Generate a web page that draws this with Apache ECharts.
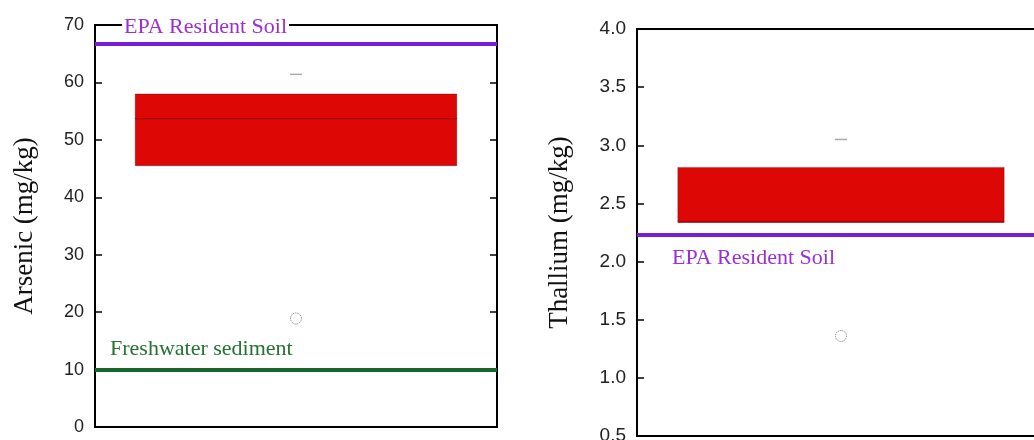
<!DOCTYPE html>
<html>
<head>
<meta charset="utf-8">
<script src="https://cdn.jsdelivr.net/npm/echarts@6/dist/echarts.min.js"></script>
<style>
  html, body { margin: 0; padding: 0; background: #fff; }
  #chart { width: 1034px; height: 440px; }
</style>
</head>
<body>
<div id="chart"></div>
<script>
// one sample location per panel
const categories = ["Site"]
// [q1, median, q3, upper whisker]
const arsenicBox = [45.5, 53.7, 58.0, 61.4]
const arsenicOutliers = [18.9]
const thalliumBox = [2.34, 2.34, 2.81, 3.05]
const thalliumOutliers = [1.36]
// screening levels
const arsenicRefNames = ["EPA Resident Soil", "Freshwater sediment"]
const arsenicRefValues = [66.7, 10]
const thalliumRefNames = ["EPA Resident Soil"]
const thalliumRefValues = [2.23]

const PURPLE = "#761fd6"
const PURPLE_TXT = "#9a2fd8"
const GREEN = "#17662a"
const GREEN_TXT = "#237332"

function renderBox(params, api) {
  const x = api.value(0)
  const q1 = api.coord([x, api.value(1)])
  const med = api.coord([x, api.value(2)])
  const q3 = api.coord([x, api.value(3)])
  const hi = api.coord([x, api.value(4)])
  const w = api.size([1, 0])[0] * 0.8
  const cx = q1[0]
  return {
    type: "group",
    children: [
      {
        type: "rect",
        shape: { x: cx - w / 2, y: q3[1], width: w, height: q1[1] - q3[1] },
        style: { fill: "#dd0806", stroke: "rgba(0,0,0,0.25)", lineWidth: 1 },
      },
      {
        type: "line",
        shape: { x1: cx - w / 2, y1: med[1], x2: cx + w / 2, y2: med[1] },
        style: { stroke: "#9a0000", lineWidth: 1.2 },
      },
      {
        type: "line",
        shape: { x1: cx - 6, y1: hi[1], x2: cx + 6, y2: hi[1] },
        style: { stroke: "#aaa", lineWidth: 1.5 },
      },
    ],
  }
}

function refLines(names, values, colors, txtColors, positions, distances, bg) {
  return names.map((n, i) => ({
    name: n,
    yAxis: values[i],
    lineStyle: { color: colors[i], width: 4, type: "solid" },
    label: {
      show: true,
      formatter: "{b}",
      position: positions[i],
      distance: distances[i],
      color: txtColors[i],
      fontFamily: "Liberation Serif",
      fontSize: 22,
      backgroundColor: bg[i] ? "#fff" : "transparent",
      padding: [0, 2],
    },
  }))
}

function yAxisBase(grid, min, max, interval, fontSize) {
  return {
    type: "value",
    gridIndex: grid,
    min: min,
    max: max,
    interval: interval,
    axisLine: { show: false },
    axisTick: { show: true, inside: true, length: 7, lineStyle: { color: "#000", width: 1.5 } },
    splitLine: { show: false },
    axisLabel: {
      color: "#222",
      fontFamily: "Liberation Sans",
      fontSize: fontSize,
      margin: 11,
      formatter: (v) => (interval < 1 ? v.toFixed(1) : String(v)),
    },
  }
}

const chart = echarts.init(document.getElementById("chart"))
chart.setOption({
  animation: false,
  grid: [
    { left: 95, top: 25, width: 402, height: 402, show: true, borderColor: "#000", borderWidth: 2, outerBoundsMode: "none" },
    { left: 637, top: 29, width: 408, height: 407, show: true, borderColor: "#000", borderWidth: 2, outerBoundsMode: "none" },
  ],
  xAxis: [0, 1].map((g) => ({
    type: "category",
    gridIndex: g,
    data: categories,
    axisLine: { show: false },
    axisTick: { show: false },
    axisLabel: { show: false },
  })),
  yAxis: [
    Object.assign(yAxisBase(0, 0, 70, 10, 18), {
      name: "Arsenic (mg/kg)",
      nameLocation: "middle",
      nameGap: 57,
      nameTextStyle: { fontFamily: "Liberation Serif", fontSize: 27, color: "#111" },
    }),
    Object.assign(yAxisBase(0, 0, 70, 10, 18), {
      position: "right",
      axisLabel: { show: false },
    }),
    Object.assign(yAxisBase(1, 0.5, 4, 0.5, 19), {
      name: "Thallium (mg/kg)",
      nameLocation: "middle",
      nameGap: 64,
      nameTextStyle: { fontFamily: "Liberation Serif", fontSize: 27, color: "#111" },
    }),
  ],
  series: [
    {
      type: "custom",
      xAxisIndex: 0,
      yAxisIndex: 0,
      renderItem: renderBox,
      encode: { x: 0, y: [1, 2, 3, 4] },
      data: [[0].concat(arsenicBox)],
      z: 2,
    },
    {
      type: "scatter",
      xAxisIndex: 0,
      yAxisIndex: 0,
      symbol: "circle",
      symbolSize: 11,
      itemStyle: { color: "#fff", borderColor: "#555", borderWidth: 1, borderType: "dotted" },
      data: arsenicOutliers.map((v) => [0, v]),
      markLine: {
        silent: true,
        symbol: ["none", "none"],
        data: refLines(
          arsenicRefNames,
          arsenicRefValues,
          [PURPLE, GREEN],
          [PURPLE_TXT, GREEN_TXT],
          ["insideStartTop", "insideStartTop"],
          [[27, 6], [13, 9]],
          [true, false]
        ),
      },
      z: 3,
    },
    {
      type: "custom",
      xAxisIndex: 1,
      yAxisIndex: 2,
      renderItem: renderBox,
      encode: { x: 0, y: [1, 2, 3, 4] },
      data: [[0].concat(thalliumBox)],
      z: 2,
    },
    {
      type: "scatter",
      xAxisIndex: 1,
      yAxisIndex: 2,
      symbol: "circle",
      symbolSize: 11,
      itemStyle: { color: "#fff", borderColor: "#555", borderWidth: 1, borderType: "dotted" },
      data: thalliumOutliers.map((v) => [0, v]),
      markLine: {
        silent: true,
        symbol: ["none", "none"],
        data: refLines(
          thalliumRefNames,
          thalliumRefValues,
          [PURPLE],
          [PURPLE_TXT],
          ["insideStartBottom"],
          [[33, 12]],
          [false]
        ),
      },
      z: 3,
    },
  ],
})
</script>
</body>
</html>
